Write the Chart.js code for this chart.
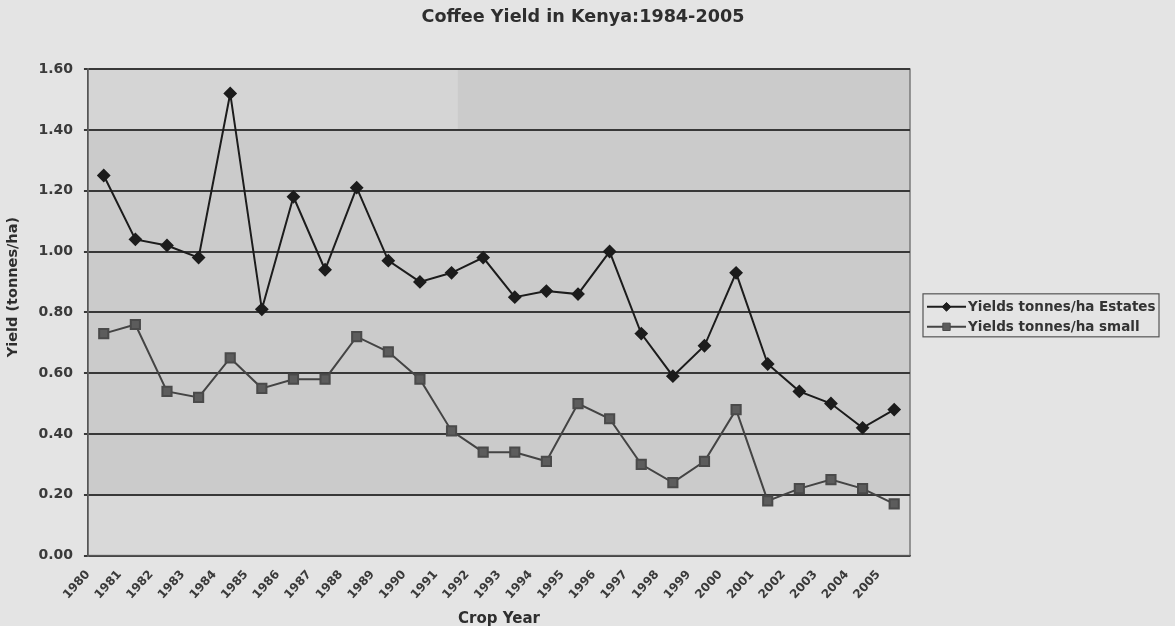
<!DOCTYPE html>
<html>
<head>
<meta charset="utf-8">
<script src="https://cdn.jsdelivr.net/npm/chart.js@4.4.1/dist/chart.umd.min.js"></script>
<style>
  html, body { margin: 0; padding: 0; background: #e4e4e4; }
  #wrap { width: 1175px; height: 626px; position: relative; }
</style>
</head>
<body>
<div id="wrap"><canvas id="c" width="1175" height="626"></canvas></div>
<script>
const years = ["1980","1981","1982","1983","1984","1985","1986","1987","1988","1989","1990","1991","1992","1993","1994","1995","1996","1997","1998","1999","2000","2001","2002","2003","2004","2005"];
const estates = [1.25,1.04,1.02,0.98,1.52,0.81,1.18,0.94,1.21,0.97,0.90,0.93,0.98,0.85,0.87,0.86,1.00,0.73,0.59,0.69,0.93,0.63,0.54,0.50,0.42,0.48];
const small = [0.73,0.76,0.54,0.52,0.65,0.55,0.58,0.58,0.72,0.67,0.58,0.41,0.34,0.34,0.31,0.50,0.45,0.30,0.24,0.31,0.48,0.18,0.22,0.25,0.22,0.17];
const seriesNames = ["Yields tonnes/ha Estates", "Yields tonnes/ha small"];
const yTicks = [0, 0.2, 0.4, 0.6, 0.8, 1.0, 1.2, 1.4, 1.6];

const FONT = "'DejaVu Sans', Verdana, sans-serif";
const LEGEND_SPACE = 255;

const bgPlugin = {
  id: 'bg',
  beforeDraw(chart) {
    const {ctx, chartArea: a, scales: {y}} = chart;
    ctx.save();
    ctx.fillStyle = '#e4e4e4';
    ctx.fillRect(0, 0, chart.width, chart.height);
    ctx.fillStyle = '#cbcbcb';
    ctx.fillRect(a.left, a.top, a.right - a.left, a.bottom - a.top);
    ctx.fillStyle = '#d5d5d5';
    const y16 = y.getPixelForValue(1.6), y14 = y.getPixelForValue(1.4);
    ctx.fillRect(a.left, y16, (a.right - a.left) * 0.45, y14 - y16);
    ctx.fillStyle = '#d9d9d9';
    const y02 = y.getPixelForValue(0.2), y0 = y.getPixelForValue(0);
    ctx.fillRect(a.left, y02, a.right - a.left, y0 - y02);
    ctx.strokeStyle = '#7a7a7a';
    ctx.lineWidth = 1.5;
    ctx.strokeRect(a.left, a.top, a.right - a.left, a.bottom - a.top);
    ctx.restore();
  },
  afterDraw(chart) {
    const {ctx, chartArea: a} = chart;
    ctx.save();
    const fl = a.right + 13, fw = 236, fh = 43;
    const fcy = (a.top + a.bottom) / 2 + 3;
    const ft = fcy - fh / 2;
    ctx.fillStyle = '#e4e4e4';
    ctx.fillRect(fl, ft, fw, fh);
    ctx.strokeStyle = '#555';
    ctx.lineWidth = 1.2;
    ctx.strokeRect(fl, ft, fw, fh);
    ctx.font = "bold 13.5px " + FONT;
    ctx.textBaseline = 'middle';
    ctx.textAlign = 'left';
    chart.data.datasets.forEach((ds, i) => {
      const cy = ft + 13 + i * 20;
      const x0 = fl + 4, x1 = fl + 43;
      ctx.strokeStyle = ds.borderColor;
      ctx.lineWidth = ds.borderWidth;
      ctx.beginPath(); ctx.moveTo(x0, cy); ctx.lineTo(x1, cy); ctx.stroke();
      ctx.fillStyle = ds.pointBackgroundColor;
      ctx.strokeStyle = ds.pointBorderColor;
      ctx.lineWidth = 1;
      Chart.helpers.drawPoint(ctx, {
        pointStyle: ds.pointStyle, radius: ds.pointRadius * 0.8, borderWidth: 1, rotation: 0
      }, (x0 + x1) / 2, cy);
      ctx.fillStyle = '#333';
      ctx.fillText(ds.label, fl + 45, cy + 0.5);
    });
    ctx.restore();
  }
};

new Chart(document.getElementById('c'), {
  type: 'line',
  data: {
    labels: years,
    datasets: [
      {
        label: seriesNames[0],
        data: estates,
        borderColor: '#1c1c1c',
        borderWidth: 2,
        pointStyle: 'rectRot',
        pointRadius: 5.5,
        pointBackgroundColor: '#1c1c1c',
        pointBorderColor: '#1c1c1c',
        tension: 0,
        fill: false
      },
      {
        label: seriesNames[1],
        data: small,
        borderColor: '#444444',
        borderWidth: 2,
        pointStyle: 'rect',
        pointRadius: 6.5,
        pointBackgroundColor: '#5c5c5c',
        pointBorderColor: '#4a4a4a',
        tension: 0,
        fill: false
      }
    ]
  },
  options: {
    responsive: false,
    animation: false,
    devicePixelRatio: 1,
    layout: { padding: { left: 1, right: 10, top: 0, bottom: 0 } },
    plugins: {
      title: {
        display: true,
        text: 'Coffee Yield in Kenya:1984-2005',
        color: '#2e2e2e',
        font: { family: FONT, size: 17.6, weight: 'bold' },
        padding: { top: 7, bottom: 41 }
      },
      legend: { display: false },
      tooltip: { enabled: false }
    },
    scales: {
      x: {
        type: 'category',
        offset: true,
        display: false
      },
      xl: {
        type: 'linear',
        position: 'bottom',
        min: -0.5,
        max: years.length - 0.5,
        afterBuildTicks(scale) { scale.ticks = years.map((y, i) => ({ value: i - 0.5 })); },
        grid: { display: false, drawTicks: false },
        border: { color: '#555', width: 1.5 },
        ticks: {
          color: '#3a3a3a',
          font: { family: FONT, size: 12, weight: 'bold' },
          minRotation: 48, maxRotation: 48,
          autoSkip: false,
          padding: 12,
          callback: (v) => years[Math.round(v + 0.5)]
        },
        title: {
          display: true,
          text: 'Crop Year',
          color: '#2e2e2e',
          font: { family: FONT, size: 15, weight: 'bold' },
          padding: { top: -4, bottom: -2 }
        }
      },
      y: {
        min: 0, max: 1.6,
        afterBuildTicks(scale) { scale.ticks = yTicks.map(v => ({ value: v })); },
        grid: { color: '#383838', lineWidth: 2, tickLength: 4, drawTicks: true },
        border: { color: '#555', width: 1.5 },
        ticks: {
          color: '#3a3a3a',
          font: { family: FONT, size: 14, weight: 'bold' },
          padding: 11,
          callback: v => Number(v).toFixed(2)
        },
        title: {
          display: true,
          text: '          Yield (tonnes/ha)',
          color: '#2e2e2e',
          font: { family: FONT, size: 14.5, weight: 'bold' },
          padding: { top: 4, bottom: 5 }
        }
      },
      legendSpace: {
        type: 'linear',
        position: 'right',
        display: true,
        grid: { display: false, drawTicks: false },
        border: { display: false },
        ticks: { display: false },
        afterFit(scale) { scale.width = LEGEND_SPACE; }
      }
    }
  },
  plugins: [bgPlugin]
});
</script>
</body>
</html>
